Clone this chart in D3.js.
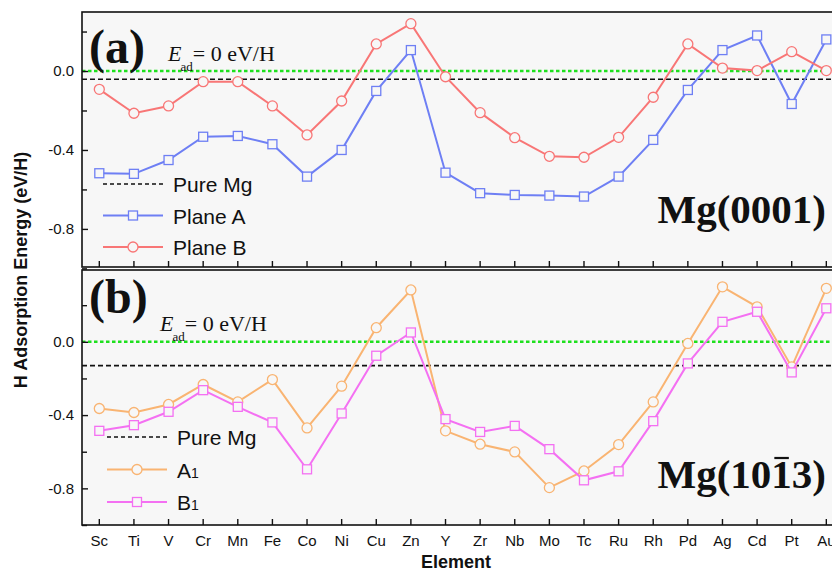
<!DOCTYPE html>
<html>
<head>
<meta charset="utf-8">
<script src="https://cdn.jsdelivr.net/npm/d3@7.9.0/dist/d3.min.js"></script>
<style>
  html, body { margin: 0; padding: 0; background: #fff; }
  svg { display: block; }
</style>
</head>
<body>
<svg id="chart" width="832" height="573"></svg>
<script>
// Data
const elements = ['Sc', 'Ti', 'V', 'Cr', 'Mn', 'Fe', 'Co', 'Ni', 'Cu', 'Zn', 'Y',
  'Zr', 'Nb', 'Mo', 'Tc', 'Ru', 'Rh', 'Pd', 'Ag', 'Cd', 'Pt', 'Au'];

// Mg(0001)
const planeA = [-0.518, -0.521, -0.451, -0.333, -0.329, -0.371, -0.535, -0.400, -0.101, 0.106, -0.515,
  -0.619, -0.628, -0.631, -0.636, -0.535, -0.349, -0.096, 0.106, 0.180, -0.167, 0.160];
const planeB = [-0.093, -0.214, -0.177, -0.054, -0.054, -0.177, -0.324, -0.152, 0.137, 0.240, -0.029,
  -0.211, -0.338, -0.432, -0.437, -0.336, -0.133, 0.137, 0.015, 0.002, 0.098, 0.002];
const pureMgA = -0.042;

// Mg(10-13)
const a1 = [-0.364, -0.386, -0.342, -0.233, -0.328, -0.206, -0.470, -0.242, 0.077, 0.283, -0.486,
  -0.559, -0.601, -0.796, -0.705, -0.561, -0.328, -0.009, 0.300, 0.191, -0.137, 0.292];
const b1 = [-0.486, -0.455, -0.382, -0.264, -0.355, -0.440, -0.696, -0.391, -0.076, 0.051, -0.422,
  -0.492, -0.459, -0.586, -0.756, -0.707, -0.433, -0.118, 0.109, 0.164, -0.167, 0.183];
const pureMgB = -0.13;

const majorTicks = [0.0, -0.4, -0.8];
const minorTicks = [0.2, -0.2, -0.6, -1.0];

const svg = d3.select('#chart');
const left = 82;
const step = 34.62;
const right = left + step * elements.length; // runs past the picture edge, as in the original
const plotBg = '#f7f7f7';

const x = d3.scaleBand()
  .domain(elements)
  .range([left, right]);
const xc = (d) => x(d) + x.bandwidth() / 2;

function drawPanel(cfg) {
  const y = d3.scaleLinear().domain(cfg.domain).range([cfg.bottom, cfg.top]);
  const g = svg.append('g');

  g.append('rect')
    .attr('x', left).attr('y', cfg.top)
    .attr('width', right - left).attr('height', cfg.bottom - cfg.top)
    .attr('fill', plotBg);

  // reference lines
  g.append('line')
    .attr('x1', left).attr('x2', right)
    .attr('y1', y(0)).attr('y2', y(0))
    .attr('stroke', '#1ee01e').attr('stroke-width', 2.5)
    .attr('stroke-dasharray', '3.5,2.5');
  g.append('line')
    .attr('x1', left).attr('x2', right)
    .attr('y1', y(cfg.pureMg)).attr('y2', y(cfg.pureMg))
    .attr('stroke', '#111').attr('stroke-width', 1.6)
    .attr('stroke-dasharray', '5,3');

  // series
  cfg.series.forEach((s) => {
    const line = d3.line()
      .x((d, i) => xc(elements[i]))
      .y((d) => y(d));
    g.append('path')
      .datum(s.values)
      .attr('fill', 'none')
      .attr('stroke', s.color)
      .attr('stroke-width', 2)
      .attr('d', line);
    drawMarkers(g, s, s.values.map((v, i) => [xc(elements[i]), y(v)]));
  });

  // frame
  g.append('rect')
    .attr('x', left).attr('y', cfg.top)
    .attr('width', right - left).attr('height', cfg.bottom - cfg.top)
    .attr('fill', 'none').attr('stroke', '#111').attr('stroke-width', 1.6);

  // y axis, ticks inward
  const yAxis = d3.axisLeft(y).tickValues(majorTicks).tickSize(-6).tickPadding(8);
  const ya = g.append('g').attr('transform', `translate(${left},0)`).call(yAxis);
  ya.select('.domain').remove();
  ya.selectAll('line').attr('stroke', '#111').attr('stroke-width', 1.4);
  ya.selectAll('text')
    .attr('font-family', 'Liberation Sans, Arial, sans-serif')
    .attr('font-size', 15).attr('fill', '#111')
    .text((d) => d.toFixed(1).replace('-0.0', '0.0'));
  const yMinor = d3.axisLeft(y).tickValues(minorTicks).tickSize(-5).tickFormat('');
  const ym = g.append('g').attr('transform', `translate(${left},0)`).call(yMinor);
  ym.select('.domain').remove();
  ym.selectAll('line').attr('stroke', '#111').attr('stroke-width', 1.4);

  // x axis, ticks inward
  const xAxis = d3.axisBottom(x).tickSize(-6).tickPadding(10);
  const xa = g.append('g').attr('transform', `translate(0,${cfg.bottom})`).call(xAxis);
  xa.select('.domain').remove();
  xa.selectAll('line').attr('stroke', '#111').attr('stroke-width', 1.4);
  if (cfg.showLabels) {
    xa.selectAll('text')
      .attr('font-family', 'Liberation Sans, Arial, sans-serif')
      .attr('font-size', 15).attr('fill', '#111');
  } else {
    xa.selectAll('text').remove();
  }

  // panel letter
  g.append('text')
    .attr('x', 89).attr('y', cfg.letterY)
    .attr('font-family', 'Liberation Serif, Times New Roman, serif')
    .attr('font-weight', 'bold').attr('font-size', 48).attr('fill', '#111')
    .text(cfg.letter);

  // E_ad = 0 eV/H
  const et = g.append('text')
    .attr('x', cfg.eadX).attr('y', cfg.eadY)
    .attr('font-family', 'Liberation Serif, Times New Roman, serif')
    .attr('font-size', 22).attr('fill', '#111');
  et.append('tspan').attr('font-style', 'italic').text('E');
  et.append('tspan').attr('font-size', 13).attr('dy', 10).attr('dx', -1).text('ad');
  et.append('tspan').attr('dy', -10).text('= 0 eV/H');

  // legend
  cfg.legend.forEach((item, i) => {
    const ly = cfg.legendY + i * cfg.legendStep;
    const lx = cfg.legendX;
    if (item.dashed) {
      g.append('line')
        .attr('x1', lx).attr('x2', lx + 60).attr('y1', ly).attr('y2', ly)
        .attr('stroke', '#111').attr('stroke-width', 1.6).attr('stroke-dasharray', '4,3');
    } else {
      g.append('line')
        .attr('x1', lx).attr('x2', lx + 60).attr('y1', ly).attr('y2', ly)
        .attr('stroke', item.color).attr('stroke-width', 2);
      drawMarkers(g, item, [[lx + 30, ly]]);
    }
    const t = g.append('text')
      .attr('x', lx + 70).attr('y', ly + 8)
      .attr('font-family', 'Liberation Sans, Arial, sans-serif')
      .attr('font-size', 21).attr('fill', '#111');
    t.append('tspan').text(item.name);
    if (item.sub) t.append('tspan').attr('font-size', 14).text(item.sub);
  });

  // surface label
  const st = g.append('text')
    .attr('x', 826).attr('y', cfg.surfY)
    .attr('text-anchor', 'end')
    .attr('font-family', 'Liberation Serif, Times New Roman, serif')
    .attr('font-weight', 'bold').attr('font-size', 41).attr('fill', '#111')
    .text(cfg.surface);
  if (cfg.overline != null) {
    const box = st.node().getExtentOfChar(cfg.overline);
    g.append('line')
      .attr('x1', box.x + 3).attr('x2', box.x + box.width - 3)
      .attr('y1', box.y + 7).attr('y2', box.y + 7)
      .attr('stroke', '#111').attr('stroke-width', 2.2);
  }
}

function drawMarkers(g, s, pts) {
  if (s.shape === 'square') {
    g.selectAll(null).data(pts).enter().append('rect')
      .attr('x', (d) => d[0] - 4.5).attr('y', (d) => d[1] - 4.5)
      .attr('width', 9).attr('height', 9)
      .attr('fill', plotBg).attr('stroke', s.color).attr('stroke-width', 1.3);
  } else {
    g.selectAll(null).data(pts).enter().append('circle')
      .attr('cx', (d) => d[0]).attr('cy', (d) => d[1]).attr('r', 5)
      .attr('fill', plotBg).attr('stroke', s.color).attr('stroke-width', 1.3);
  }
}

const blue = '#6e7ff4';
const red = '#f87676';
const orange = '#f9b472';
const magenta = '#f470f2';

drawPanel({
  top: 12, bottom: 267, domain: [-0.993, 0.299],
  pureMg: pureMgA,
  series: [
    { values: planeA, color: blue, shape: 'square' },
    { values: planeB, color: red, shape: 'circle' },
  ],
  showLabels: false,
  letter: '(a)', letterY: 63,
  eadX: 168, eadY: 61,
  legendX: 103, legendY: 184, legendStep: 31.5,
  legend: [
    { name: 'Pure Mg', dashed: true },
    { name: 'Plane A', color: blue, shape: 'square' },
    { name: 'Plane B', color: red, shape: 'circle' },
  ],
  surface: 'Mg(0001)', surfY: 223,
});

drawPanel({
  top: 270, bottom: 525, domain: [-1.0, 0.392],
  pureMg: pureMgB,
  series: [
    { values: a1, color: orange, shape: 'circle' },
    { values: b1, color: magenta, shape: 'square' },
  ],
  showLabels: true,
  letter: '(b)', letterY: 313,
  eadX: 160, eadY: 331,
  legendX: 107, legendY: 437, legendStep: 32.5,
  legend: [
    { name: 'Pure Mg', dashed: true },
    { name: 'A', sub: '1', color: orange, shape: 'circle' },
    { name: 'B', sub: '1', color: magenta, shape: 'square' },
  ],
  surface: 'Mg(1013)', surfY: 488, overline: 5,
});

// axis titles
svg.append('text')
  .attr('transform', 'translate(27,270) rotate(-90)')
  .attr('text-anchor', 'middle')
  .attr('font-family', 'Liberation Sans, Arial, sans-serif')
  .attr('font-weight', 'bold').attr('font-size', 18).attr('fill', '#111')
  .text('H Adsorption Energy (eV/H)');

svg.append('text')
  .attr('x', 456).attr('y', 568)
  .attr('text-anchor', 'middle')
  .attr('font-family', 'Liberation Sans, Arial, sans-serif')
  .attr('font-weight', 'bold').attr('font-size', 18).attr('fill', '#111')
  .text('Element');
</script>
</body>
</html>
